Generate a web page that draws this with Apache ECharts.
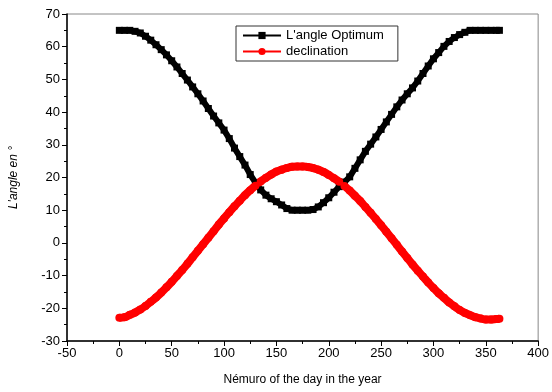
<!DOCTYPE html>
<html><head><meta charset="utf-8">
<script src="https://cdn.jsdelivr.net/npm/echarts@6/dist/echarts.min.js"></script>
<style>html,body{margin:0;padding:0;background:#fff}#c{width:552px;height:392px}</style>
</head><body><div id="c"></div>
<script>
const days = [0,5,10,15,20,25,30,35,40,45,50,55,60,65,70,75,80,85,90,95,100,105,110,115,120,125,130,135,140,145,150,155,160,165,170,175,180,185,190,195,200,205,210,215,220,225,230,235,240,245,250,255,260,265,270,275,280,285,290,295,300,305,310,315,320,325,330,335,340,345,350,355,360,363];
const optimum = [65,65,65,64.7,64.2,63.2,62,60.6,59.1,57.5,55.7,53.8,51.8,49.8,47.7,45.6,43.4,41.1,38.8,36.7,34.5,31.9,29,26.4,23.8,20.9,18.4,16.2,14.6,13.5,12.6,11.6,10.5,10,10,10,10,10.2,11,12.3,13.8,15.5,17.2,18.6,20.2,22.8,25.4,28,30.2,32.4,34.7,37,39.3,41.6,43.7,45.6,47.4,49.5,51.8,54.1,56.3,58.2,60.1,61.6,62.8,63.7,64.4,65,65,65,65,65,65,65];
const declination = [-22.9,-22.7,-22,-21.3,-20.4,-19.3,-18,-16.7,-15.2,-13.6,-11.9,-10.1,-8.3,-6.4,-4.4,-2.4,-0.4,1.6,3.6,5.6,7.5,9.4,11.2,12.9,14.6,16.1,17.5,18.8,19.9,20.9,21.8,22.4,22.9,23.3,23.4,23.4,23.2,22.9,22.4,21.7,20.8,19.8,18.7,17.4,16,14.4,12.8,11,9.2,7.3,5.4,3.4,1.4,-0.6,-2.6,-4.6,-6.6,-8.5,-10.3,-12.1,-13.8,-15.4,-16.8,-18.2,-19.4,-20.5,-21.4,-22.1,-22.7,-23.1,-23.4,-23.4,-23.3,-23.2];
const seriesNames = ["L'angle Optimum", "declination"];
const xTitle = "Némuro of the day in the year";
const yTitle = "L'angle en °";

const chart = echarts.init(document.getElementById('c'));
const pairs = a => days.map((d,i)=>[d,a[i]]);
const font = 'Liberation Sans, Arial, sans-serif';
chart.setOption({
  animation:false,
  grid:{left:67,right:10,top:14,bottom:51,show:true,borderColor:'#888',borderWidth:1},
  legend:{
    left:236, top:26, orient:'vertical', itemGap:3, padding:[3,14,3,6],
    borderColor:'#333', borderWidth:1, itemWidth:38, itemHeight:9,
    textStyle:{fontFamily:font,fontSize:13,color:'#000'},
    data:seriesNames
  },
  xAxis:{
    type:'value', min:-50, max:400, interval:50,
    name:xTitle, nameLocation:'middle', nameGap:33,
    nameTextStyle:{fontFamily:font,fontSize:12,color:'#000'},
    axisLine:{onZero:false,lineStyle:{color:'#000',width:1.5}},
    axisTick:{show:true,length:5,lineStyle:{color:'#000'}},
    minorTick:{show:true,splitNumber:2,length:3,lineStyle:{color:'#000'}},
    splitLine:{show:false},
    axisLabel:{fontFamily:font,fontSize:13,color:'#000',margin:6}
  },
  yAxis:{
    type:'value', min:-30, max:70, interval:10,
    name:yTitle, nameLocation:'middle', nameGap:47,
    nameTextStyle:{fontFamily:font,fontSize:12,color:'#000',fontStyle:'italic'},
    axisLine:{onZero:false,lineStyle:{color:'#000',width:1.5}},
    axisTick:{show:true,length:5,lineStyle:{color:'#000'}},
    minorTick:{show:true,splitNumber:2,length:3,lineStyle:{color:'#000'}},
    splitLine:{show:false},
    axisLabel:{fontFamily:font,fontSize:13,color:'#000',margin:7}
  },
  series:[
    {name:seriesNames[0],type:'line',data:pairs(optimum),symbol:'rect',symbolSize:7,
     itemStyle:{color:'#000'},lineStyle:{color:'#000',width:6}},
    {name:seriesNames[1],type:'line',data:pairs(declination),symbol:'circle',symbolSize:8,smooth:true,
     itemStyle:{color:'#ff0000'},lineStyle:{color:'#ff0000',width:8}}
  ]
});
</script></body></html>
